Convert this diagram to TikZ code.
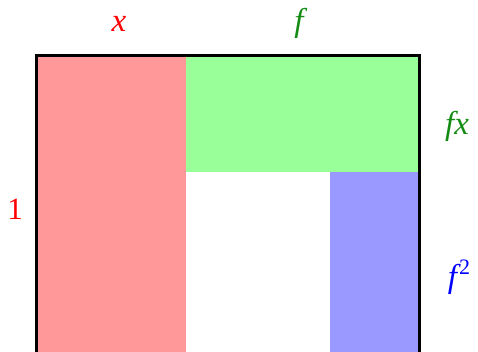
\documentclass[tikz,border=0pt]{standalone}
\usepackage{xcolor}
\usepackage{fontspec}
\setmainfont{Liberation Serif}
\usepackage{tikz}
\definecolor{xfill}{RGB}{255, 153, 153}
\definecolor{ffill}{RGB}{153, 255, 153}
\definecolor{sqfill}{RGB}{153, 153, 255}
\definecolor{flabel}{RGB}{20, 140, 20}
\tikzset{
  lbl/.style={font=\fontsize{33}{38}\selectfont\itshape, inner sep=0pt}
}

\begin{document}
\begin{tikzpicture}[x=1pt, y=1pt]
      \useasboundingbox (0,0) rectangle (478,351);
      \clip (0,0) rectangle (478,351);
      % areas
      \fill[xfill] (36,295) rectangle (186,-90);
      \fill[ffill] (186,295) rectangle (419,179);
      \fill[sqfill] (330,179) rectangle (419,-90);
      \draw[line width=3pt] (36,295) rectangle (419,-88);
      % labels
      \node[lbl, text=red, anchor=base] (xtop) at (119,319) {x};
      \node[lbl, text=flabel, anchor=base] (ftop) at (299,319) {f};
      \node[lbl, text=flabel, anchor=base] (fx) at (457,216) {fx};
      \node[lbl, text=red, anchor=base, font=\fontsize{31}{36}\selectfont] (one) at (15,132) {1};
      \node[lbl, text=blue, anchor=base] (fsq) at (459,64)
        {f\kern2pt\raisebox{13pt}{\upshape\fontsize{22}{24}\selectfont 2}};
    \end{tikzpicture}
\end{document}
